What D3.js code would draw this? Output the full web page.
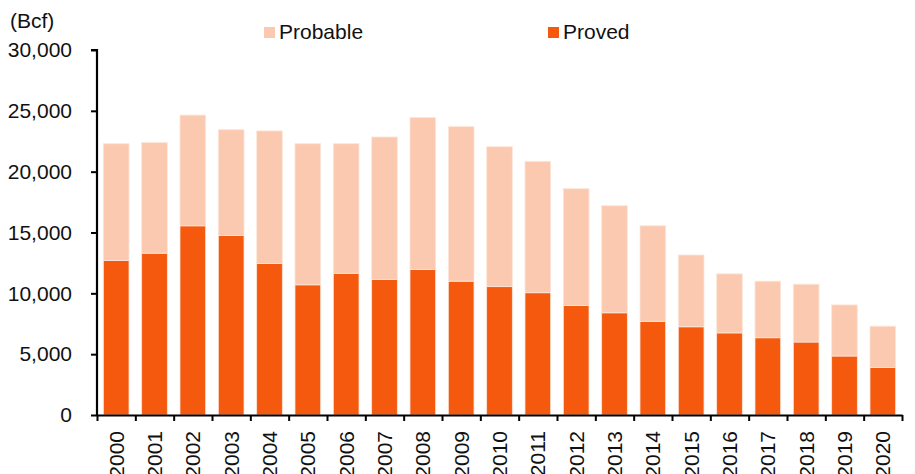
<!DOCTYPE html>
<html>
<head>
<meta charset="utf-8">
<script src="https://cdn.jsdelivr.net/npm/d3@7"></script>
<style>
  html, body { margin: 0; padding: 0; background: #fff; }
  svg { display: block; font-family: "Liberation Sans", Arial, sans-serif; }
</style>
</head>
<body>
<svg id="chart"></svg>
<script>
var years = ["2000", "2001", "2002", "2003", "2004", "2005", "2006", "2007", "2008", "2009", "2010",
  "2011", "2012", "2013", "2014", "2015", "2016", "2017", "2018", "2019", "2020"];
var proved = [12700, 13300, 15550, 14750, 12450, 10700, 11650, 11150, 11950, 11000, 10550,
  10050, 9000, 8400, 7700, 7250, 6750, 6350, 6000, 4850, 3900];
var probable = [9600, 9100, 9100, 8700, 10900, 11600, 10650, 11700, 12500, 12700, 11500,
  10800, 9600, 8800, 7850, 5900, 4850, 4650, 4750, 4200, 3400];
var yTicks = [0, 5000, 10000, 15000, 20000, 25000, 30000];
var seriesNames = ["Proved", "Probable"];
var seriesColors = { Proved: "#f4590e", Probable: "#fbc9b0" };

(function () {
  var W = 915, H = 474;
  var left = 97, right = 902, top = 50, bottom = 415;

  var svg = d3.select("#chart").attr("width", W).attr("height", H);

  var x = d3.scaleBand().domain(years).range([left, right])
    .paddingInner(0.33).paddingOuter(0.165);
  var y = d3.scaleLinear().domain([0, 30000]).range([bottom, top]);

  var rows = years.map(function (yr, i) {
    return { year: yr, Proved: proved[i], Probable: probable[i] };
  });
  var stacked = d3.stack().keys(seriesNames)(rows);

  svg.append("g")
    .selectAll("g")
    .data(stacked)
    .join("g")
    .attr("fill", function (s) { return seriesColors[s.key]; })
    .selectAll("rect")
    .data(function (s) { return s; })
    .join("rect")
    .attr("x", function (d) { return x(d.data.year); })
    .attr("width", x.bandwidth())
    .attr("y", function (d) { return y(d[1]); })
    .attr("height", function (d) { return y(d[0]) - y(d[1]); })
    .attr("stroke", "#fde6da")
    .attr("stroke-width", 0.8);

  // y axis
  var yAxis = svg.append("g")
    .attr("transform", "translate(" + left + ",0)")
    .call(d3.axisLeft(y).tickValues(yTicks).tickSize(6).tickPadding(19)
      .tickFormat(d3.format(",")));
  yAxis.select(".domain").attr("stroke", "#000").attr("stroke-width", 2.2)
    .attr("d", "M-6," + top + "H0V" + bottom);
  yAxis.selectAll(".tick line").attr("stroke", "#000").attr("stroke-width", 2);
  yAxis.selectAll(".tick text")
    .attr("fill", "#111")
    .style("font-size", "21px")
    .style("font-family", "Liberation Sans, Arial, sans-serif");

  // x axis: ticks on the band boundaries
  var xb = d3.scaleLinear().domain([0, years.length]).range([left, right]);
  var xTickAxis = svg.append("g")
    .attr("transform", "translate(0," + bottom + ")")
    .call(d3.axisBottom(xb).tickValues(d3.range(years.length + 1)).tickSize(6)
      .tickSizeOuter(0).tickFormat(""));
  xTickAxis.select(".domain").attr("stroke", "#000").attr("stroke-width", 2.2);
  xTickAxis.selectAll(".tick line").attr("stroke", "#000").attr("stroke-width", 2);

  // x labels (rotated)
  var xLab = svg.append("g")
    .attr("transform", "translate(0," + bottom + ")")
    .call(d3.axisBottom(x).tickSize(0).tickPadding(0));
  xLab.select(".domain").remove();
  xLab.selectAll(".tick text")
    .attr("fill", "#111")
    .style("font-size", "21px")
    .style("font-family", "Liberation Sans, Arial, sans-serif")
    .attr("text-anchor", "end")
    .attr("transform", "rotate(-90)")
    .attr("x", -16)
    .attr("y", 0)
    .attr("dy", "0.36em");

  // unit label
  svg.append("text")
    .attr("x", 10).attr("y", 28)
    .attr("fill", "#111")
    .style("font-size", "21px")
    .text("(Bcf)");

  // legend
  var legendItems = [
    { name: "Probable", x: 264 },
    { name: "Proved", x: 548 }
  ];
  var lg = svg.append("g").selectAll("g").data(legendItems).join("g")
    .attr("transform", function (d) { return "translate(" + d.x + ",27)"; });
  lg.append("rect")
    .attr("width", 11).attr("height", 11)
    .attr("fill", function (d) { return seriesColors[d.name]; });
  lg.append("text")
    .attr("x", 15).attr("y", 12)
    .attr("fill", "#111")
    .style("font-size", "21px")
    .text(function (d) { return d.name; });
})();
</script>
</body>
</html>
